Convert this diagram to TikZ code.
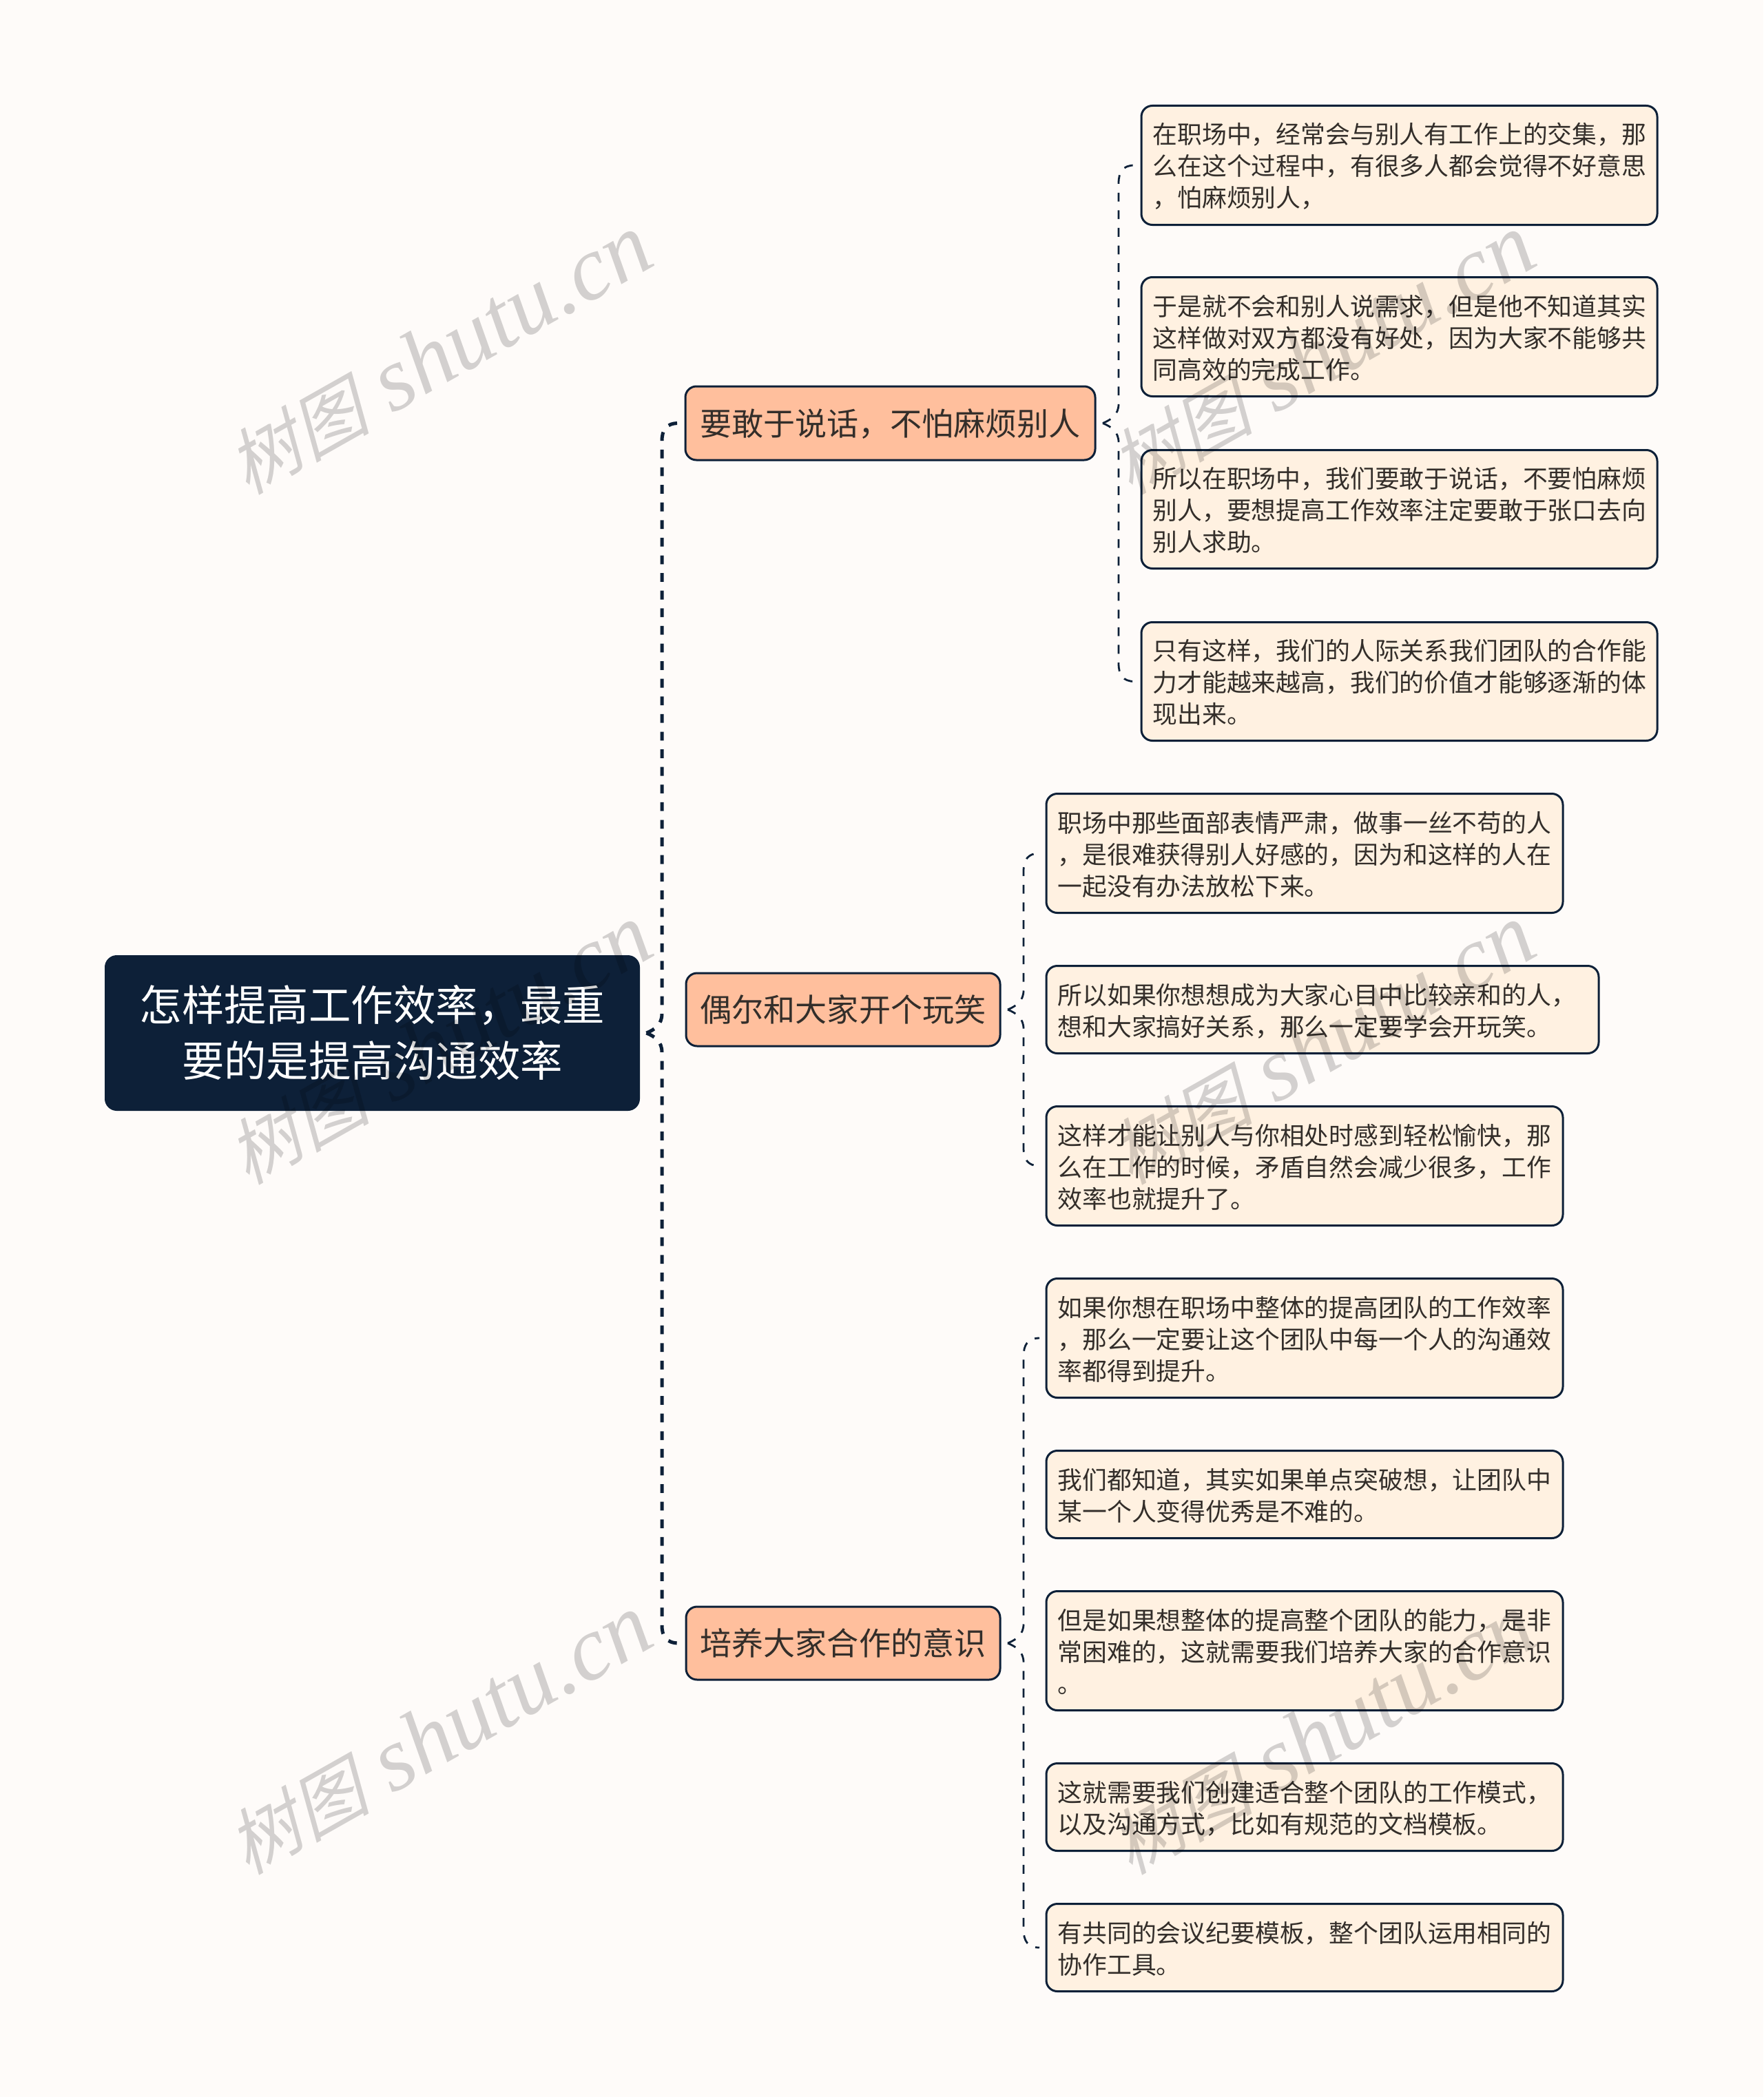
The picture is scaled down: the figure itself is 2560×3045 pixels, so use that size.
\documentclass[tikz,border=0pt]{standalone}
\usepackage{fontspec}
\usetikzlibrary{calc}
\setmainfont{Noto Sans CJK SC}
\newfontfamily\wmlatin{Liberation Serif}
\newfontfamily\wmcjk[FakeSlant=0.25]{Noto Sans CJK SC}
\definecolor{pagebg}{HTML}{FEFBF9}
\definecolor{navy}{HTML}{0D2038}
\definecolor{peach}{HTML}{FFBF9D}
\definecolor{cream}{HTML}{FFF1E1}
\definecolor{inkc}{HTML}{332E2A}
\tikzset{
  x=0.5pt,y=-0.5pt,
  basebox/.style={draw=navy,line width=1.5pt,rounded corners=8pt,outer sep=0pt,inner ysep=0pt},
  leafbox/.style={basebox,fill=cream,text=inkc,align=left,inner xsep=8.25pt,
    font=\fontsize{17.92}{23}\selectfont,
    execute at begin node={\rule{0pt}{18pt}},execute at end node={\rule[-3pt]{0pt}{3pt}}},
  branchbox/.style={basebox,fill=peach,text=inkc,align=center,inner xsep=0pt,
    text height=20pt,text depth=2.5pt,
    font=\fontsize{23.04}{30}\selectfont},
  rootbox/.style={basebox,fill=navy,text=white,align=center,inner xsep=0pt,
    font=\fontsize{30.72}{40.5}\selectfont},
  rootlink/.style={draw=navy,line width=2.5pt,dash pattern=on 6.4pt off 6.4pt},
  leaflink/.style={draw=navy,line width=1.4pt,dash pattern=on 6.4pt off 6.4pt},
  markstyle/.style={text=black,opacity=.17,rotate=29.5,inner sep=0pt},
}
% name, left, top, right, bottom, style, text
\newcommand\placebox[7]{%
  \node[#6,minimum width={(#4-#2)*0.5pt},minimum height={(#5-#3)*0.5pt}] (#1)
    at ({(#2+#4)/2},{(#3+#5)/2}) {#7};}
\newcommand\placeleaf[6]{%
  \node[leafbox,minimum width={(#4-#2-1)*0.5pt},minimum height={(#5-#3-1)*0.5pt},
    text width={(#4-#2-33)*0.5pt}] (#1)
    at ({(#2+#4)/2},{(#3+#5)/2}) {#6};}
% style, tip, trunk, child, sign (-1 up, 1 down)
\newcommand\treelink[5]{%
  \draw[#1] (#2) .. controls ($(#2)+(12,{#5*5})$) and ($(#3 |- #2)+(0,{#5*12})$) .. ($(#3 |- #2)+(0,{#5*28})$)
    -- ($(#3 |- #4.west)+(0,{#5*(-26)})$)
    .. controls ($(#3 |- #4.west)+(0,{#5*(-10)})$) and ($(#3 |- #4.west)+(6,0)$) .. ($(#4.west)+(-10,0)$);}
\newcommand\markat[3]{%
  \node[markstyle] (#1) at (#2,#3) {\fontsize{52}{60}\selectfont\wmcjk 树图\fontsize{66}{60}\selectfont\wmlatin\itshape\ shutu.cn};}
\begin{document}
\begin{tikzpicture}
\fill[pagebg] (0,0) rectangle (2560,3045);
\useasboundingbox (0,0) rectangle (2560,3045);

\placebox{root}{153.5}{1388.5}{927.5}{1611.5}{rootbox}{怎样提高工作效率，最重\\要的是提高沟通效率}
\placebox{b1}{995}{561}{1590}{668}{branchbox}{要敢于说话，不怕麻烦别人}
\placebox{b2}{996}{1413}{1452}{1519}{branchbox}{偶尔和大家开个玩笑}
\placebox{b3}{996}{2333}{1452}{2439}{branchbox}{培养大家合作的意识}

\placeleaf{a1}{1657}{153}{2406}{327}{在职场中，经常会与别人有工作上的交集，那\\么在这个过程中，有很多人都会觉得不好意思\\，怕麻烦别人，}
\placeleaf{a2}{1657}{402}{2406}{576}{于是就不会和别人说需求，但是他不知道其实\\这样做对双方都没有好处，因为大家不能够共\\同高效的完成工作。}
\placeleaf{a3}{1657}{653}{2406}{826}{所以在职场中，我们要敢于说话，不要怕麻烦\\别人，要想提高工作效率注定要敢于张口去向\\别人求助。}
\placeleaf{a4}{1657}{903}{2406}{1076}{只有这样，我们的人际关系我们团队的合作能\\力才能越来越高，我们的价值才能够逐渐的体\\现出来。}

\placeleaf{c1}{1519}{1152}{2269}{1326}{职场中那些面部表情严肃，做事一丝不苟的人\\，是很难获得别人好感的，因为和这样的人在\\一起没有办法放松下来。}
\placeleaf{c2}{1519}{1402}{2321}{1530}{所以如果你想想成为大家心目中比较亲和的人，\\想和大家搞好关系，那么一定要学会开玩笑。}
\placeleaf{c3}{1519}{1606}{2269}{1780}{这样才能让别人与你相处时感到轻松愉快，那\\么在工作的时候，矛盾自然会减少很多，工作\\效率也就提升了。}

\placeleaf{d1}{1519}{1856}{2269}{2030}{如果你想在职场中整体的提高团队的工作效率\\，那么一定要让这个团队中每一个人的沟通效\\率都得到提升。}
\placeleaf{d2}{1519}{2106}{2269}{2234}{我们都知道，其实如果单点突破想，让团队中\\某一个人变得优秀是不难的。}
\placeleaf{d3}{1519}{2310}{2269}{2484}{但是如果想整体的提高整个团队的能力，是非\\常困难的，这就需要我们培养大家的合作意识\\。}
\placeleaf{d4}{1519}{2560}{2269}{2688}{这就需要我们创建适合整个团队的工作模式，\\以及沟通方式，比如有规范的文档模板。}
\placeleaf{d5}{1519}{2764}{2269}{2892}{有共同的会议纪要模板，整个团队运用相同的\\协作工具。}

\coordinate (tipR) at ($(root.east)+(11,0)$);
\coordinate (trunkR) at ($(b1.west)+(-34,0)$);
\treelink{rootlink}{tipR}{trunkR}{b1}{-1}
\treelink{rootlink}{tipR}{trunkR}{b3}{1}

\coordinate (tipA) at ($(b1.east)+(11,0)$);
\coordinate (trunkA) at ($(b1.east)+(34,0)$);
\treelink{leaflink}{tipA}{trunkA}{a1}{-1}
\treelink{leaflink}{tipA}{trunkA}{a4}{1}

\coordinate (tipC) at ($(b2.east)+(11,0)$);
\coordinate (trunkC) at ($(b2.east)+(34,0)$);
\treelink{leaflink}{tipC}{trunkC}{c1}{-1}
\treelink{leaflink}{tipC}{trunkC}{c3}{1}

\coordinate (tipD) at ($(b3.east)+(11,0)$);
\coordinate (trunkD) at ($(b3.east)+(34,0)$);
\treelink{leaflink}{tipD}{trunkD}{d1}{-1}
\treelink{leaflink}{tipD}{trunkD}{d5}{1}

\markat{m1}{637}{515}
\markat{m2}{637}{1517}
\markat{m3}{637}{2519}
\markat{m4}{1919}{515}
\markat{m5}{1919}{1517}
\markat{m6}{1919}{2519}
\end{tikzpicture}
\end{document}
